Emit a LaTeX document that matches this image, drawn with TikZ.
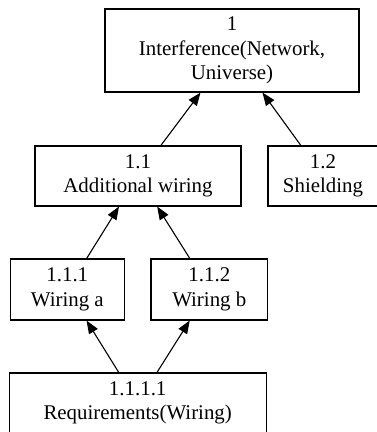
\documentclass[tikz,border=0pt]{standalone}
\usepackage{fontspec}
\setmainfont{Liberation Serif}
\usetikzlibrary{arrows.meta}

\tikzset{
    task/.style={draw, rectangle, align=center, inner sep=0pt, line width=1.1pt,
        font=\fontsize{20.9}{24.5}\selectfont},
    dep/.style={line width=1.1pt, -{Triangle[length=13pt,width=10pt]}}
}

\begin{document}
\begin{tikzpicture}[x=1pt, y=-1pt]

    % Fix the page
    \useasboundingbox (0,0) rectangle (377,432);

    % Define the centres
    \coordinate (Top) at (232, 50.5);
    \coordinate (Wire) at (138, 176);
    \coordinate (Shield) at (323, 176);
    \coordinate (WireA) at (67.3, 289.5);
    \coordinate (WireB) at (209.3, 289.5);
    \coordinate (Req) at (137.7, 403);

    % Draw the boxes
    \node[task, minimum width=254pt, minimum height=83pt] (n1) at (Top)
        {1\\Interference(Network,\\Universe)};
    \node[task, minimum width=206pt, minimum height=60pt] (n11) at (Wire)
        {1.1\\Additional wiring};
    \node[task, minimum width=110pt, minimum height=60pt] (n12) at (Shield)
        {1.2\\Shielding};
    \node[task, minimum width=113.6pt, minimum height=61pt] (n111) at (WireA)
        {1.1.1\\Wiring a};
    \node[task, minimum width=116.7pt, minimum height=61pt] (n112) at (WireB)
        {1.1.2\\Wiring b};
    \node[task, minimum width=256.7pt, minimum height=60pt] (n1111) at (Req)
        {1.1.1.1\\Requirements(Wiring)};

    % Draw the arrows up to the parents
    \draw[dep] (n11) -- (n1);
    \draw[dep] (n12) -- (n1);
    \draw[dep] (n111) -- (n11);
    \draw[dep] (n112) -- (n11);
    \draw[dep] (n1111) -- (n111);
    \draw[dep] (n1111) -- (n112);

\end{tikzpicture}
\end{document}
